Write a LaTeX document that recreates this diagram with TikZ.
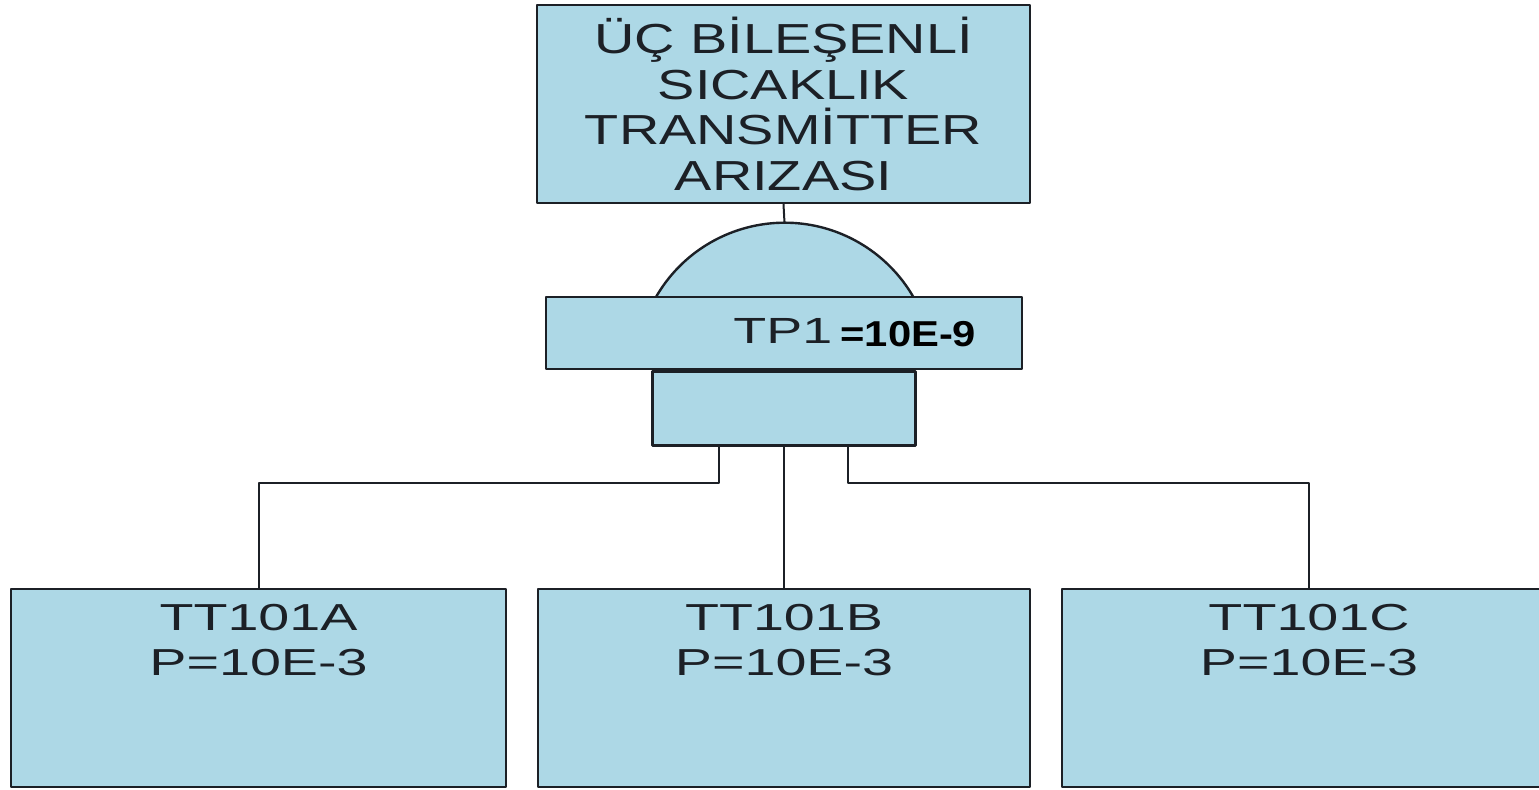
\documentclass[tikz,border=0pt]{standalone}
\usepackage{fontspec}
\setmainfont{Liberation Sans}
\newfontfamily\titlefont[FakeStretch=1.33]{Liberation Sans}
\newfontfamily\widefont[FakeStretch=1.48]{Liberation Sans}
\newfontfamily\probfont[FakeStretch=1.16]{Liberation Sans}
\usetikzlibrary{positioning}
\definecolor{boxblue}{RGB}{173,216,230}
\definecolor{edgegray}{RGB}{28,32,38}
\tikzset{
	box/.style={draw=edgegray, fill=boxblue, line width=1.2pt, inner sep=0pt},
	wire/.style={draw=edgegray, line width=1pt},
	eventtext/.style={font=\widefont\fontsize{18.8}{22.5}\selectfont, align=center, inner sep=0pt, text=edgegray},
}
\begin{document}
\begin{tikzpicture}[x=0.5pt, y=0.5pt, line join=round]
	\useasboundingbox (0,0) rectangle (1539,-789);
	\clip (0,0) rectangle (1539,-789);
	% top event
	\node[box, minimum width=246.5pt, minimum height=99pt, align=center, text=edgegray,
		font=\titlefont\fontsize{21}{22.7}\selectfont] (top) at (783.5,-104)
		{ÜÇ BİLEŞENLİ\\SICAKLIK\\TRANSMİTTER\\ARIZASI};
	% and gate
	\coordinate (gatetop) at (784.5,-223);
	\filldraw[box] (656,-297) arc[start angle=150, end angle=30, radius=148.6];
	\node[box, minimum width=238pt, minimum height=36pt] (tp) at (784,-333) {};
	\node[box, minimum width=131.5pt, minimum height=37pt, anchor=north] (gatebody) at (tp.south) {};
	\node[anchor=base west, inner sep=0pt, text=edgegray,
		font=\widefont\fontsize{18.2}{20}\selectfont] (tpname) at (733,-343) {TP1};
	\node[anchor=base west, inner sep=0pt,
		font=\probfont\bfseries\fontsize{18}{20}\selectfont] (tpprob) at (840,-346) {=10E-9};
	% basic events
	\node[box, minimum width=247.5pt, minimum height=99pt] (ttA) at (258.5,-688) {};
	\node[box, minimum width=246pt, minimum height=99pt] (ttB) at (784,-688) {};
	\node[box, minimum width=247pt, minimum height=99pt] (ttC) at (1309,-688) {};
	\node[eventtext, anchor=north] (ttAtext) at ([yshift=-8pt]ttA.north) {TT101A\\P=10E-3};
	\node[eventtext, anchor=north] (ttBtext) at ([yshift=-8pt]ttB.north) {TT101B\\P=10E-3};
	\node[eventtext, anchor=north] (ttCtext) at ([yshift=-8pt]ttC.north) {TT101C\\P=10E-3};
	% connectors
	\draw[wire] (top.south) -- (gatetop);
	\draw[wire] ([xshift=-32.5pt]gatebody.south) -- ++(0,-36) -| (ttA.north);
	\draw[wire] (gatebody.south) -- (ttB.north);
	\draw[wire] ([xshift=32pt]gatebody.south) -- ++(0,-36) -| (ttC.north);
\end{tikzpicture}
\end{document}
